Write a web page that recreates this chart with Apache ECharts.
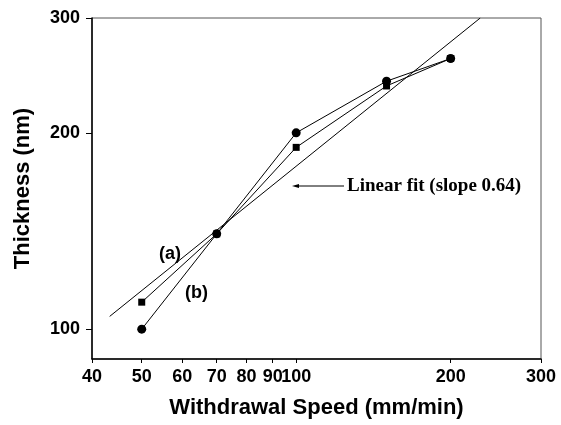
<!DOCTYPE html>
<html>
<head>
<meta charset="utf-8">
<script src="https://cdn.jsdelivr.net/npm/echarts@6/dist/echarts.min.js"></script>
<style>
html,body{margin:0;padding:0;background:#fff;}
#chart{width:561px;height:425px;}
</style>
</head>
<body>
<div id="chart"></div>
<script>
// Data
const speedsA = [50, 70, 100, 150, 200];          // curve (a), squares
const thickA  = [110, 140, 190, 236, 260];
const speedsB = [50, 70, 100, 150, 200];          // curve (b), circles
const thickB  = [100, 140, 200, 240, 260];
const fitX = [43.3, 228.4];                        // linear fit (slope 0.64) end points
const fitY = [104.6, 300];
const xTicks = [40, 50, 60, 70, 80, 90, 100, 200, 300];
const yTicks = [100, 200, 300];

const pairs = (xs, ys) => xs.map((x, i) => [x, ys[i]]);

const chart = echarts.init(document.getElementById('chart'), null, {renderer: 'canvas'});
const lab = {fontFamily: 'Liberation Sans, Arial, sans-serif', fontWeight: 'bold', color: '#000'};

chart.setOption({
  animation: false,
  backgroundColor: '#fff',
  grid: {left: 92, right: 20, top: 18, bottom: 66, show: true, borderColor: '#555', borderWidth: 1},
  xAxis: {
    type: 'log', logBase: 10, min: 40, max: 300,
    name: 'Withdrawal Speed (mm/min)', nameLocation: 'middle', nameGap: 38,
    nameTextStyle: Object.assign({fontSize: 22}, lab),
    axisLine: {show: true, lineStyle: {color: '#000', width: 1.5}},
    axisTick: {show: true, inside: false, length: 4, customValues: xTicks, lineStyle: {color: '#000'}},
    axisLabel: Object.assign({fontSize: 18, margin: 9, customValues: xTicks}, lab),
    minorTick: {show: false}, splitLine: {show: false}
  },
  yAxis: {
    type: 'log', logBase: 10, min: 90, max: 300,
    name: 'Thickness (nm)', nameLocation: 'middle', nameGap: 58,
    nameTextStyle: Object.assign({fontSize: 22}, lab),
    axisLine: {show: true, lineStyle: {color: '#000', width: 1.5}},
    axisTick: {show: true, inside: false, length: 6, customValues: yTicks, lineStyle: {color: '#000'}},
    axisLabel: Object.assign({fontSize: 18, margin: 12, customValues: yTicks}, lab),
    minorTick: {show: false}, splitLine: {show: false}
  },
  series: [
    {
      name: '(a)', type: 'line', data: pairs(speedsA, thickA),
      symbol: 'rect', symbolSize: 7, itemStyle: {color: '#000'},
      lineStyle: {color: '#000', width: 1}
    },
    {
      name: '(b)', type: 'line', data: pairs(speedsB, thickB),
      symbol: 'circle', symbolSize: 9, itemStyle: {color: '#000'},
      lineStyle: {color: '#000', width: 1}
    },
    {
      name: 'fit', type: 'line', data: pairs(fitX, fitY),
      symbol: 'none', lineStyle: {color: '#000', width: 1}
    }
  ],
  graphic: [
    {type: 'text', left: 159, top: 245, style: {text: '(a)', fontSize: 18, fontWeight: 'bold', fontFamily: 'Liberation Sans, Arial', fill: '#000'}},
    {type: 'text', left: 185, top: 284, style: {text: '(b)', fontSize: 18, fontWeight: 'bold', fontFamily: 'Liberation Sans, Arial', fill: '#000'}},
    {type: 'line', shape: {x1: 296, y1: 186, x2: 344, y2: 186}, style: {stroke: '#000', lineWidth: 1}},
    {type: 'polygon', shape: {points: [[292, 186], [299, 184], [299, 188]]}, style: {fill: '#000'}},
    {type: 'text', left: 347, top: 177, style: {text: 'Linear fit (slope 0.64)', fontSize: 19, fontWeight: 'bold', fontFamily: 'Liberation Serif, Times New Roman, serif', fill: '#000'}}
  ]
});
</script>
</body>
</html>
